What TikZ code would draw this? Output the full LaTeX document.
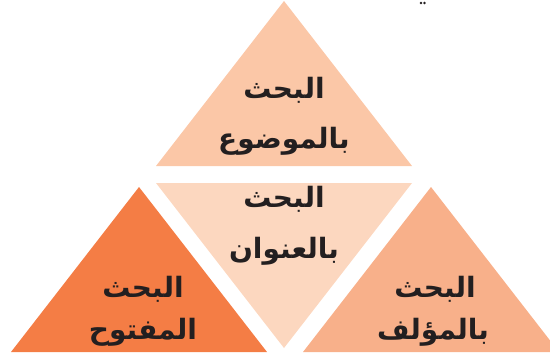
\documentclass[tikz,border=0pt]{standalone}
\usepackage{fontspec}
\newfontfamily\arabicfont[Script=Arabic]{DejaVu Sans}
\TeXXeTstate=1
\definecolor{topfill}{HTML}{FBC7A7}
\definecolor{midfill}{HTML}{FCD7BF}
\definecolor{leftfill}{HTML}{F47D45}
\definecolor{rightfill}{HTML}{F8B08A}
\definecolor{inkdark}{HTML}{231F20}
\tikzset{tri/.style = {draw = none}}
\tikzset{word/.style = {anchor = base, inner sep = 0pt, text = inkdark,
  font = \arabicfont\bfseries\fontsize{28}{32}\selectfont}}

\begin{document}
\begin{tikzpicture}[x = 1pt, y = -1pt]
			\clip (0, 0) rectangle (550, 357);

			% triangles
			\coordinate (tA) at (284, 1);
			\coordinate (tL) at (156, 166);
			\coordinate (tR) at (412, 166);
			\coordinate (mL) at (156, 183);
			\coordinate (mR) at (412, 183);
			\coordinate (mB) at (284, 348);
			\coordinate (lA) at (139, 187);
			\coordinate (lL) at (11, 352);
			\coordinate (lR) at (267, 352);
			\coordinate (rA) at (431, 187);
			\coordinate (rL) at (303, 352);
			\coordinate (rR) at (559, 352);

			\fill[tri, topfill] (tA) -- (tL) -- (tR) -- cycle;
			\fill[tri, midfill] (mL) -- (mR) -- (mB) -- cycle;
			\fill[tri, leftfill] (lA) -- (lL) -- (lR) -- cycle;
			\fill[tri, rightfill] (rA) -- (rL) -- (rR) -- cycle;

			% labels
			\node[word] (topa) at (284, 98) {\beginR البحث\endR};
			\node[word] (topb) at (284, 148) {\beginR بالموضوع\endR};
			\node[word] (mida) at (284, 207) {\beginR البحث\endR};
			\node[word] (midb) at (284, 258) {\beginR بالعنوان\endR};
			\node[word] (lefta) at (143, 297) {\beginR البحث\endR};
			\node[word] (leftb) at (143, 339) {\beginR المفتوح\endR};
			\node[word] (righta) at (435, 297) {\beginR البحث\endR};
			\node[word] (rightb) at (433, 339) {\beginR بالمؤلف\endR};

			% stray dots at the top
			\fill[inkdark] (421, 3) circle (1.4);
			\fill[inkdark] (424.5, 3) circle (1.4);
		\end{tikzpicture}
\end{document}
